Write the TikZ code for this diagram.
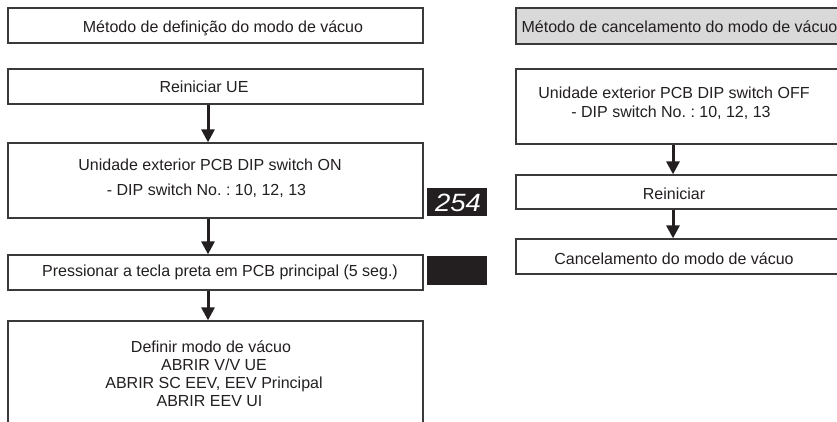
\documentclass[tikz,border=0pt]{standalone}
\usepackage{fontspec}
\setmainfont{Liberation Sans}
\usetikzlibrary{arrows.meta}
\definecolor{ink}{HTML}{231F20}
\definecolor{edge}{HTML}{3A3A3A}
\definecolor{hdr}{HTML}{D9D9D9}
\tikzset{
  box/.style={draw=edge, line width=1.3pt, rectangle, inner sep=0pt, fill=white},
  lbox/.style={box, minimum width=415pt},
  rbox/.style={box, minimum width=324pt},
  txt/.style={anchor=base, inner sep=0pt, text=ink, font=\fontsize{16}{19}\selectfont\frenchspacing},
  arr/.style={draw=ink, line width=3pt, -{Triangle[width=13pt,length=13pt]}, shorten >=0pt},
  disp/.style={fill=ink, draw=none, minimum width=60pt, inner sep=0pt}
}
\begin{document}
\begin{tikzpicture}[x=1pt,y=-1pt]
\useasboundingbox (0,0) rectangle (837,422);
% left column boxes
\node[lbox, minimum height=35pt] (lt) at (215.5,25.5) {};
\node[lbox, minimum height=35pt] (l1) at (215.5,86.5) {};
\node[lbox, minimum height=75pt] (l2) at (215.5,180.5) {};
\node[lbox, minimum height=35pt] (l3) at (215.5,272.5) {};
\node[lbox, minimum height=109pt] (l4) at (215.5,375.5) {};
% right column boxes
\node[rbox, minimum height=36pt, fill=hdr] (rt) at (678,26) {};
\node[rbox, minimum height=75pt] (r1) at (678,106.5) {};
\node[rbox, minimum height=34pt] (r2) at (678,192) {};
\node[rbox, minimum height=35pt] (r3) at (678,256.5) {};
% displays
\node[disp, minimum height=28.5pt] (d1) at (457,202) {};
\node[disp, minimum height=29pt] (d2) at (457,270.5) {};
\node[anchor=base, inner sep=0pt, text=white, xscale=1.1, font=\fontsize{25}{25}\selectfont\itshape] (d1t) at (458,211.5) {254};
% texts left
\node[txt] (tlt) at (223,32.3) {Método de definição do modo de vácuo};
\node[txt] (tl1) at (204,92.7) {Reiniciar UE};
\node[txt] (tl2a) at (210,171) {Unidade exterior PCB DIP switch ON};
\node[txt] (tl2b) at (206.5,195) {- DIP switch No. : 10, 12, 13};
\node[txt] (tl3) at (220,276.7) {Pressionar a tecla preta em PCB principal (5 seg.)};
\node[txt] (tl4a) at (211,352.7) {Definir modo de vácuo};
\node[txt] (tl4b) at (214,370.7) {ABRIR V/V UE};
\node[txt] (tl4c) at (214,388.7) {ABRIR SC EEV, EEV Principal};
\node[txt] (tl4d) at (209.5,406.7) {ABRIR EEV UI};
% texts right
\node[txt] (trt) at (679.5,32.3) {Método de cancelamento do modo de vácuo};
\node[txt] (tr1a) at (674,99) {Unidade exterior PCB DIP switch OFF};
\node[txt] (tr1b) at (671,117.7) {- DIP switch No. : 10, 12, 13};
\node[txt] (tr2) at (674,200) {Reiniciar};
\node[txt] (tr3) at (674,264) {Cancelamento do modo de vácuo};
% arrows
\draw[arr] ([xshift=-7.5pt]l1.south) -- ([xshift=-7.5pt]l2.north);
\draw[arr] ([xshift=-7.5pt]l2.south) -- ([xshift=-7.5pt]l3.north);
\draw[arr] ([xshift=-7.5pt]l3.south) -- ([xshift=-7.5pt]l4.north);
\draw[arr] ([xshift=-5pt]r1.south) -- ([xshift=-5pt]r2.north);
\draw[arr] ([xshift=-5pt]r2.south) -- ([xshift=-5pt]r3.north);
\end{tikzpicture}
\end{document}
